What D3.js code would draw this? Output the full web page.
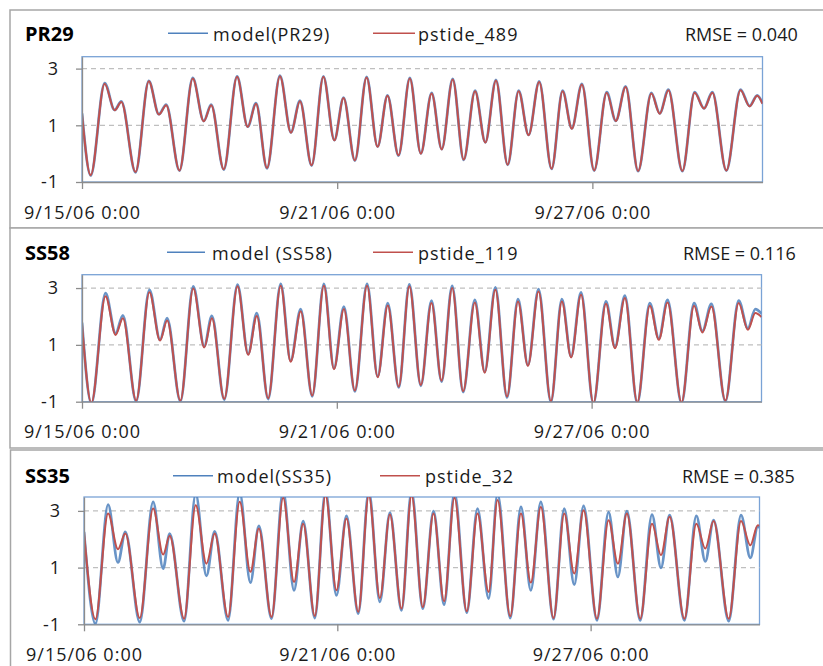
<!DOCTYPE html>
<html>
<head>
<meta charset="utf-8">
<script src="https://cdnjs.cloudflare.com/ajax/libs/d3/7.8.5/d3.min.js"></script>
<style>
  body { margin: 0; background: #fff; }
  svg { font-family: "Open Sans", sans-serif; }
</style>
</head>
<body>
<div id="visualisation"></div>
<script>
// time axis: 9/15/06 0:00 .. 10/1/06 0:00, ticks every 6 days
var START = new Date(2006, 8, 15, 0, 0);
var END = new Date(2006, 9, 1, 0, 0);
var xTickDates = [new Date(2006, 8, 15), new Date(2006, 8, 21), new Date(2006, 8, 27)];
var yTicks = [-1, 1, 3];

var stationNames = ['PR29', 'SS58', 'SS35'];
var modelLabels = ['model(PR29)', 'model (SS58)', 'model(SS35)'];
var obsLabels = ['pstide_489', 'pstide_119', 'pstide_32'];
var rmseValues = [0.040, 0.116, 0.385];

// turning points of each tide curve, hours after 9/15/06 0:00
var pr29Hours = [0, 4.9, 12.8, 18.4, 22.2, 30.2, 37.7, 43.4, 47.5, 55.0, 62.5, 68.7, 72.9, 80.0, 87.5, 93.5, 98.2,
  104.4, 111.7, 117.9, 123.0, 129.6, 136.2, 142.4, 147.6, 154.0, 160.6, 166.8, 172.4, 178.6, 185.0, 191.2, 197.3,
  203.0, 209.2, 215.4, 221.8, 227.6, 233.6, 240.2, 246.4, 252.0, 258.0, 265.0, 271.2, 276.4, 282.1, 289.0, 296.1,
  301.2, 306.8, 313.8, 321.3, 326.0, 330.9, 338.8, 345.7, 351.0, 355.7, 363.6, 371.6, 376.7, 381.0, 384];
var pr29Obs = [1.40, -0.76, 2.47, 1.53, 1.82, -0.65, 2.55, 1.38, 1.71, -0.59, 2.65, 1.14, 1.71, -0.55, 2.71, 0.94, 1.76,
  -0.51, 2.73, 0.74, 1.85, -0.41, 2.71, 0.47, 1.96, -0.24, 2.69, 0.24, 2.04, -0.06, 2.65, 0.00, 2.12,
  0.15, 2.62, -0.21, 2.20, 0.39, 2.58, -0.39, 2.20, 0.65, 2.53, -0.53, 2.20, 0.88, 2.44, -0.59, 2.15,
  1.15, 2.35, -0.61, 2.12, 1.41, 2.24, -0.61, 2.15, 1.59, 2.15, -0.59, 2.24, 1.67, 2.04, 1.76];
var pr29Model = [1.42, -0.77, 2.49, 1.54, 1.84, -0.66, 2.57, 1.39, 1.73, -0.60, 2.67, 1.15, 1.73, -0.56, 2.73, 0.95, 1.78,
  -0.52, 2.75, 0.75, 1.87, -0.42, 2.73, 0.48, 1.98, -0.25, 2.71, 0.25, 2.06, -0.07, 2.67, 0.01, 2.14,
  0.16, 2.64, -0.22, 2.22, 0.40, 2.60, -0.40, 2.22, 0.66, 2.55, -0.54, 2.22, 0.89, 2.46, -0.60, 2.17,
  1.16, 2.37, -0.62, 2.14, 1.42, 2.26, -0.62, 2.17, 1.60, 2.17, -0.60, 2.26, 1.68, 2.06, 1.78];

var ss58Hours = [0, 5.3, 13.3, 19.0, 23.1, 30.6, 38.1, 44.1, 48.1, 55.6, 62.9, 69.1, 73.4, 80.4, 87.9, 93.9, 98.8,
  105.2, 112.3, 117.9, 123.6, 130.1, 136.7, 142.4, 148.0, 154.2, 161.1, 167.1, 172.8, 179.0, 185.0, 191.5, 197.5,
  203.2, 209.2, 215.4, 222.0, 227.6, 233.6, 240.2, 246.4, 252.0, 258.0, 265.0, 271.2, 276.4, 282.0, 289.0, 296.1,
  301.2, 306.8, 313.8, 320.9, 326.0, 330.9, 338.8, 345.9, 350.6, 355.7, 363.6, 371.1, 376.3, 380.5, 384];
var ss58Obs = [1.75, -1.04, 2.71, 1.35, 1.94, -0.96, 2.85, 1.15, 1.86, -0.96, 2.98, 0.91, 1.94, -0.90, 3.06, 0.65, 2.02,
  -0.88, 3.08, 0.41, 2.18, -0.78, 3.08, 0.14, 2.26, -0.61, 3.08, -0.14, 2.39, -0.47, 3.06, -0.41, 2.47,
  -0.26, 3.00, -0.63, 2.49, 0.02, 2.94, -0.82, 2.53, 0.26, 2.88, -0.98, 2.53, 0.56, 2.76, -1.04, 2.45,
  0.88, 2.65, -1.02, 2.38, 1.18, 2.49, -1.02, 2.38, 1.44, 2.35, -0.96, 2.47, 1.53, 2.12, 1.98];
var ss58Model = [1.78, -1.07, 2.82, 1.40, 2.04, -0.99, 2.94, 1.18, 1.94, -0.99, 3.06, 0.95, 2.02, -0.93, 3.12, 0.68, 2.12,
  -0.91, 3.15, 0.44, 2.26, -0.81, 3.15, 0.17, 2.35, -0.64, 3.15, -0.11, 2.47, -0.50, 3.13, -0.44, 2.56,
  -0.29, 3.08, -0.66, 2.58, 0.05, 3.02, -0.85, 2.61, 0.29, 2.96, -1.01, 2.61, 0.59, 2.85, -1.07, 2.53,
  0.92, 2.73, -1.05, 2.47, 1.22, 2.58, -1.05, 2.47, 1.48, 2.44, -0.99, 2.56, 1.58, 2.26, 2.10];

var ss35Hours = [0, 6.5, 13.7, 19.3, 23.5, 31.7, 39.3, 45.0, 48.7, 56.9, 63.5, 69.6, 74.3, 81.9, 88.5, 94.6, 99.4,
  106.6, 113.2, 119.4, 124.6, 131.2, 137.3, 143.5, 149.2, 155.9, 161.9, 168.2, 173.9, 180.5, 186.2, 192.6, 198.7,
  204.7, 210.6, 217.6, 223.7, 230.0, 235.1, 242.3, 248.4, 254.0, 259.7, 266.9, 273.0, 278.7, 284.0, 291.6, 298.2,
  303.5, 308.6, 316.2, 322.9, 328.0, 332.9, 341.3, 348.1, 353.2, 357.9, 366.5, 373.5, 378.8, 383.0, 384];
var ss35Obs = [2.26, -0.82, 2.91, 1.65, 2.20, -0.78, 3.08, 1.46, 2.12, -0.80, 3.20, 1.14, 2.20, -0.74, 3.32, 0.85, 2.38,
  -0.74, 3.46, 0.49, 2.55, -0.71, 3.55, 0.20, 2.73, -0.56, 3.55, -0.07, 2.87, -0.45, 3.55, -0.39, 2.91,
  -0.19, 3.46, -0.54, 2.91, 0.14, 3.38, -0.71, 2.91, 0.47, 3.14, -0.78, 2.91, 0.79, 3.02, -0.80, 2.67,
  1.14, 2.91, -0.80, 2.55, 1.44, 2.79, -0.80, 2.55, 1.67, 2.64, -0.80, 2.64, 1.79, 2.49, 2.48];
var ss35Model = [2.26, -0.98, 3.22, 1.18, 2.26, -0.92, 3.32, 0.96, 2.20, -0.89, 3.60, 0.71, 2.28, -0.86, 3.65, 0.47, 2.47,
  -0.80, 3.70, 0.20, 2.64, -0.78, 3.70, 0.02, 2.82, -0.62, 3.70, -0.21, 2.94, -0.51, 3.70, -0.45, 2.99,
  -0.31, 3.65, -0.59, 3.08, -0.09, 3.60, -0.78, 3.14, 0.20, 3.32, -0.82, 3.08, 0.40, 3.18, -0.86, 2.96,
  0.67, 2.99, -0.86, 2.87, 0.99, 2.85, -0.86, 2.82, 1.22, 2.67, -0.89, 2.85, 1.34, 2.44, 2.42];

var BLUE = '#4f81bd';
var RED = '#c0504d';

// layout of the three stacked charts (pixels)
var panels = [
  { hours: pr29Hours, obs: pr29Obs, model: pr29Model, yMax: 3.42,
    box: { top: 10, bottom: 228, left: 10 },
    plot: { left: 82, right: 762.5, top: 56.7, bottom: 182 },
    head: 33.3, legend: [168, 208, 213, 373, 415, 418, 685] },
  { hours: ss58Hours, obs: ss58Obs, model: ss58Model, yMax: 3.47,
    box: { top: 228, bottom: 448, left: 10 },
    plot: { left: 82, right: 761.5, top: 274.7, bottom: 401.7 },
    head: 252.3, legend: [167, 205, 212, 373, 413, 418, 683] },
  { hours: ss35Hours, obs: ss35Obs, model: ss35Model, yMax: 3.49,
    box: { top: 450, bottom: 700, left: 10.5 },
    plot: { left: 84, right: 759.5, top: 497, bottom: 624.3 },
    head: 475.7, legend: [173, 213, 217, 380, 420, 425, 682] }
];

var svg = d3.select('#visualisation').append('svg')
  .attr('width', 823)
  .attr('height', 666);

var fmt = d3.timeFormat('%-m/%-d/%y %-H:%M');
function toDate(h) { return new Date(START.getTime() + h * 3600000); }

panels.forEach(function(p, i) {
  var g = svg.append('g');

  // chart frame
  g.append('rect')
    .attr('x', p.box.left).attr('y', p.box.top)
    .attr('width', 900).attr('height', p.box.bottom - p.box.top)
    .attr('fill', '#fff').attr('stroke', '#a6a6a6').attr('stroke-width', 1.5);

  var x = d3.scaleTime().domain([START, END]).range([p.plot.left, p.plot.right]);
  var y = d3.scaleLinear().domain([-1, p.yMax]).range([p.plot.bottom, p.plot.top]);

  // plot area border
  g.append('rect')
    .attr('x', p.plot.left).attr('y', p.plot.top)
    .attr('width', p.plot.right - p.plot.left).attr('height', p.plot.bottom - p.plot.top)
    .attr('fill', 'none').attr('stroke', '#7aa3d6').attr('stroke-width', 1.3);

  // dashed gridlines
  g.selectAll('.grid').data(yTicks.filter(function(t) { return t > -1; }))
    .enter().append('line')
    .attr('x1', p.plot.left).attr('x2', p.plot.right)
    .attr('y1', function(d) { return y(d); }).attr('y2', function(d) { return y(d); })
    .attr('stroke', '#bfbfbf').attr('stroke-width', 1.2).attr('stroke-dasharray', '5,4');

  // series, clipped to plot area
  var clipId = 'clip' + i;
  g.append('clipPath').attr('id', clipId).append('rect')
    .attr('x', p.plot.left).attr('y', p.plot.top)
    .attr('width', p.plot.right - p.plot.left).attr('height', p.plot.bottom - p.plot.top);

  var line = function(vals) {
    return d3.line()
      .x(function(d, k) { return x(toDate(p.hours[k])); })
      .y(function(d) { return y(d); })
      .curve(d3.curveMonotoneX)(vals);
  };
  var series = g.append('g').attr('clip-path', 'url(#' + clipId + ')');
  series.append('path').attr('d', line(p.model))
    .attr('fill', 'none').attr('stroke', BLUE).attr('stroke-width', 2.75).attr('stroke-opacity', 0.85);
  series.append('path').attr('d', line(p.obs))
    .attr('fill', 'none').attr('stroke', RED).attr('stroke-width', 2);

  // axes
  var xAxis = g.append('g')
    .attr('transform', 'translate(0,' + p.plot.bottom + ')')
    .call(d3.axisBottom(x).tickValues(xTickDates).tickFormat(fmt).tickSize(7).tickSizeOuter(0).tickPadding(17));
  var yAxis = g.append('g')
    .attr('transform', 'translate(' + p.plot.left + ',0)')
    .call(d3.axisLeft(y).tickValues(yTicks).tickFormat(function(d) { return String(d); })
      .tickSize(6).tickSizeOuter(0).tickPadding(17));
  [xAxis, yAxis].forEach(function(a) {
    a.select('.domain').attr('stroke', '#8c8c8c').attr('stroke-width', 1.3);
    a.selectAll('.tick line').attr('stroke', '#8c8c8c').attr('stroke-width', 1.3);
    a.selectAll('.tick text')
      .attr('fill', '#1a1a1a')
      .style('font-family', '"Open Sans", sans-serif')
      .style('font-size', '18px')
      .style('letter-spacing', '1px');
  });

  // title, legend, RMSE
  var L = p.legend;
  g.append('text').attr('x', 25).attr('y', p.head + 7.2)
    .style('font-size', '20px').style('font-weight', 'bold').text(stationNames[i]);
  g.append('line').attr('x1', L[0]).attr('x2', L[1]).attr('y1', p.head).attr('y2', p.head)
    .attr('stroke', BLUE).attr('stroke-width', 1.6);
  g.append('text').attr('x', L[2]).attr('y', p.head + 7.2)
    .style('font-size', '18px').style('letter-spacing', '1px').attr('fill', '#1a1a1a').text(modelLabels[i]);
  g.append('line').attr('x1', L[3]).attr('x2', L[4]).attr('y1', p.head).attr('y2', p.head)
    .attr('stroke', RED).attr('stroke-width', 1.6);
  g.append('text').attr('x', L[5]).attr('y', p.head + 7.2)
    .style('font-size', '18px').style('letter-spacing', '1px').attr('fill', '#1a1a1a').text(obsLabels[i]);
  g.append('text').attr('x', L[6]).attr('y', p.head + 7.2)
    .style('font-size', '18px').attr('fill', '#1a1a1a').text('RMSE = ' + rmseValues[i].toFixed(3));
});
</script>
</body>
</html>
